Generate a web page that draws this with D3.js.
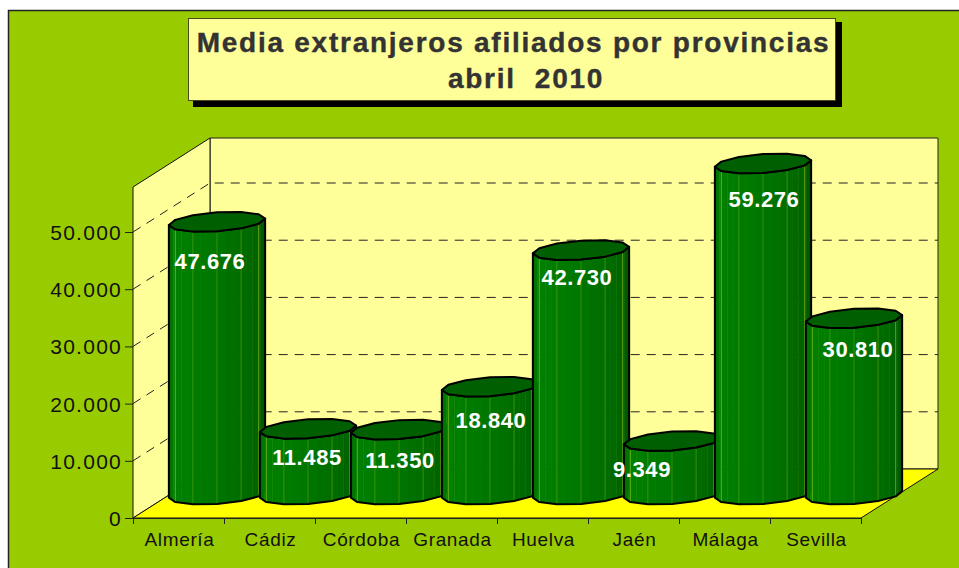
<!DOCTYPE html>
<html>
<head>
<meta charset="utf-8">
<script src="https://cdn.jsdelivr.net/npm/d3@7"></script>
<style>
  body { margin: 0; background: #fff; }
  svg { display: block; }
  text { font-family: "Liberation Sans", Arial, sans-serif; }
</style>
</head>
<body>
<div class="chart"></div>
<script>
const titleLines = ["Media extranjeros afiliados por provincias", "abril  2010"];
const provinces = ["Almería", "Cádiz", "Córdoba", "Granada", "Huelva", "Jaén", "Málaga", "Sevilla"];
const afiliados = [47676, 11485, 11350, 18840, 42730, 9349, 59276, 30810];
const yTicks = [0, 10000, 20000, 30000, 40000, 50000];

// hand placed in the original, so nudged from the bar centre [x, y]
const labelNudge = [[-7, 40], [-1, 29], [1, 31], [1, 34], [-4, 28], [-30, 29], [1, 36], [4, 32]];

const w = 959, h = 568;
const depthX = 77, depthY = -49;
const plot = {left: 133, right: 861, bottom: 518, top: 187};

const es = d3.formatLocale({decimal: ",", thousands: ".", grouping: [3], currency: ["", "€"]});
const fmt = es.format(",d");

const x = d3.scaleBand().domain(provinces).range([plot.left, plot.right]);
// axis tops out under the tallest value, Málaga gets cut at the wall top
const y = d3.scaleLinear().domain([0, 57870]).range([plot.bottom, plot.top]).clamp(true);
const slots = d3.scaleLinear().domain([0, provinces.length]).range([plot.left, plot.right]);

const svg = d3.select(".chart").append("svg").attr("width", w).attr("height", h);

svg.append("rect").attr("x", 8.5).attr("y", 10.5).attr("width", w).attr("height", h)
    .attr("fill", "#99cc00").attr("stroke", "#222").attr("stroke-width", 1.5);

// title box
svg.append("rect").attr("x", 193).attr("y", 22).attr("width", 649).attr("height", 85).attr("fill", "#000");
svg.append("rect").attr("x", 188.5).attr("y", 18.5).attr("width", 647).attr("height", 82)
    .attr("fill", "#ffff99").attr("stroke", "#4a4a20").attr("stroke-width", 1);
svg.selectAll(".title").data(titleLines).enter().append("text")
    .attr("class", "title")
    .attr("x", (d, i) => i == 0 ? 513.5 : 526)
    .attr("y", (d, i) => 52 + i * 36)
    .attr("text-anchor", "middle")
    .attr("font-size", 28)
    .attr("font-weight", "bold")
    .attr("letter-spacing", 1.75)
    .attr("fill", "#333")
    .attr("stroke", "#333")
    .attr("stroke-width", 0.4)
    .style("white-space", "pre")
    .text(d => d);

// walls and floor
const pts = a => a.map(p => p.join(",")).join(" ");
const L = plot.left, R = plot.right, B = plot.bottom, T = plot.top;
svg.append("polygon")
    .attr("points", pts([[L + depthX, T + depthY], [R + depthX, T + depthY], [R + depthX, B + depthY], [L + depthX, B + depthY]]))
    .attr("fill", "#ffff99").attr("stroke", "#222").attr("stroke-width", 1);
svg.append("polygon")
    .attr("points", pts([[L, T], [L + depthX, T + depthY], [L + depthX, B + depthY], [L, B]]))
    .attr("fill", "#ffff99").attr("stroke", "#111").attr("stroke-width", 1);
svg.append("polygon")
    .attr("points", pts([[L, B], [R, B], [R + depthX, B + depthY], [L + depthX, B + depthY]]))
    .attr("fill", "#ffff00").attr("stroke", "#111").attr("stroke-width", 1);

// gridlines, side wall then back wall
const grid = svg.append("g").attr("fill", "none").attr("stroke", "#222")
    .attr("stroke-width", 1).attr("stroke-dasharray", "9 7");
yTicks.filter(d => d > 0).forEach(d => {
    grid.append("polyline")
        .attr("points", pts([[L, y(d)], [L + depthX, y(d) + depthY], [R + depthX, y(d) + depthY]]));
});

// axes
const yAxis = d3.axisLeft(y).tickValues(yTicks).tickFormat(fmt).tickSize(8).tickSizeOuter(0).tickPadding(3);
const yG = svg.append("g").attr("transform", `translate(${L},0)`).call(yAxis);
yG.select(".domain").remove();
yG.selectAll("line").attr("stroke", "#222");
yG.selectAll("text").attr("font-size", 21).attr("letter-spacing", 1.25).attr("fill", "#111")
    .attr("dy", "0.36em").attr("font-family", "Liberation Sans");

const xTicks = d3.axisBottom(slots).ticks(provinces.length).tickFormat("").tickSize(6).tickSizeOuter(0);
const xTickG = svg.append("g").attr("transform", `translate(0,${B})`).call(xTicks);
xTickG.selectAll("line").attr("stroke", "#222");
xTickG.select(".domain").attr("stroke", "#222");

const xAxis = d3.axisBottom(x).tickSize(0).tickPadding(15);
const xG = svg.append("g").attr("transform", `translate(1,${B})`).call(xAxis);
xG.select(".domain").remove();
xG.selectAll("text").attr("font-size", 19).attr("letter-spacing", 0.65).attr("fill", "#111")
    .attr("font-family", "Liberation Sans");

// cylinders: oblique prism with a skewed base, half way into the floor depth
const sides = 12;
const bandsPerSide = 3;
const radiusX = x.bandwidth() / 2;
const skewX = 15.7, skewY = -10;
const phi = Math.atan2(skewX, radiusX);
const ring = d3.range(sides + 1).map(k => {
    const t = phi + Math.PI + k * 2 * Math.PI / sides;
    return [radiusX * Math.cos(t) + skewX * Math.sin(t), skewY * Math.sin(t)];
});
const front = ring.slice(0, sides / 2 + 1);
const shade = d3.scaleLinear().domain([0, 0.12, 0.4, 0.75, 1])
    .range(["#006c00", "#008000", "#007a00", "#006a00", "#005800"]);
const line = d3.line();

const bars = svg.selectAll(".bar").data(provinces).enter().append("g").attr("class", "bar")
    .attr("transform", (d, i) => `translate(${x(d) + x.bandwidth() / 2 + depthX / 2},${depthY / 2 + 1})`);

bars.each(function (d, i) {
    const g = d3.select(this);
    const base = y(0), top = y(afiliados[i]);
    const at = (p, yy) => [p[0], p[1] + yy];
    const total = (front.length - 1) * bandsPerSide;
    d3.pairs(front).forEach((seg, k) => {
        d3.range(bandsPerSide).forEach(b => {
            const lerp = f => [seg[0][0] + (seg[1][0] - seg[0][0]) * f, seg[0][1] + (seg[1][1] - seg[0][1]) * f];
            const a0 = lerp(b / bandsPerSide), a1 = lerp((b + 1) / bandsPerSide);
            const quad = [at(a0, top), at(a1, top), at(a1, base), at(a0, base)];
            const col = shade((k * bandsPerSide + b) / (total - 1));
            g.append("path").attr("d", line(quad) + "Z").attr("fill", col).attr("stroke", col).attr("stroke-width", 0.5);
            // pale seam between facets
            if (k > 0 && b == 0) {
                g.append("path").attr("d", line([at(a0, top), at(a0, base)]))
                    .attr("stroke", "#9fcc20").attr("stroke-width", 0.8)
                    .attr("stroke-opacity", k < 2 || k > 4 ? 0.7 : 0.4);
            }
        });
    });
    const outline = front.map(p => at(p, top)).concat(front.slice().reverse().map(p => at(p, base)));
    g.append("path").attr("d", line(outline) + "Z").attr("fill", "none")
        .attr("stroke", "#000").attr("stroke-width", 2).attr("stroke-linejoin", "round");
    g.append("path").attr("d", line(ring.map(p => at(p, top))) + "Z").attr("fill", "#005f00")
        .attr("stroke", "#000").attr("stroke-width", 2).attr("stroke-linejoin", "round");
});

// value labels on top of every bar
svg.selectAll(".value").data(afiliados).enter().append("text")
    .attr("class", "value")
    .attr("x", (d, i) => x(provinces[i]) + x.bandwidth() / 2 + depthX / 2 + labelNudge[i][0])
    .attr("y", (d, i) => y(d) + depthY / 2 + labelNudge[i][1] + 8)
    .attr("text-anchor", "middle")
    .attr("font-size", 22)
    .attr("font-weight", "bold")
    .attr("letter-spacing", 0.6)
    .attr("fill", "#fff")
    .text(d => fmt(d));
</script>
</body>
</html>
